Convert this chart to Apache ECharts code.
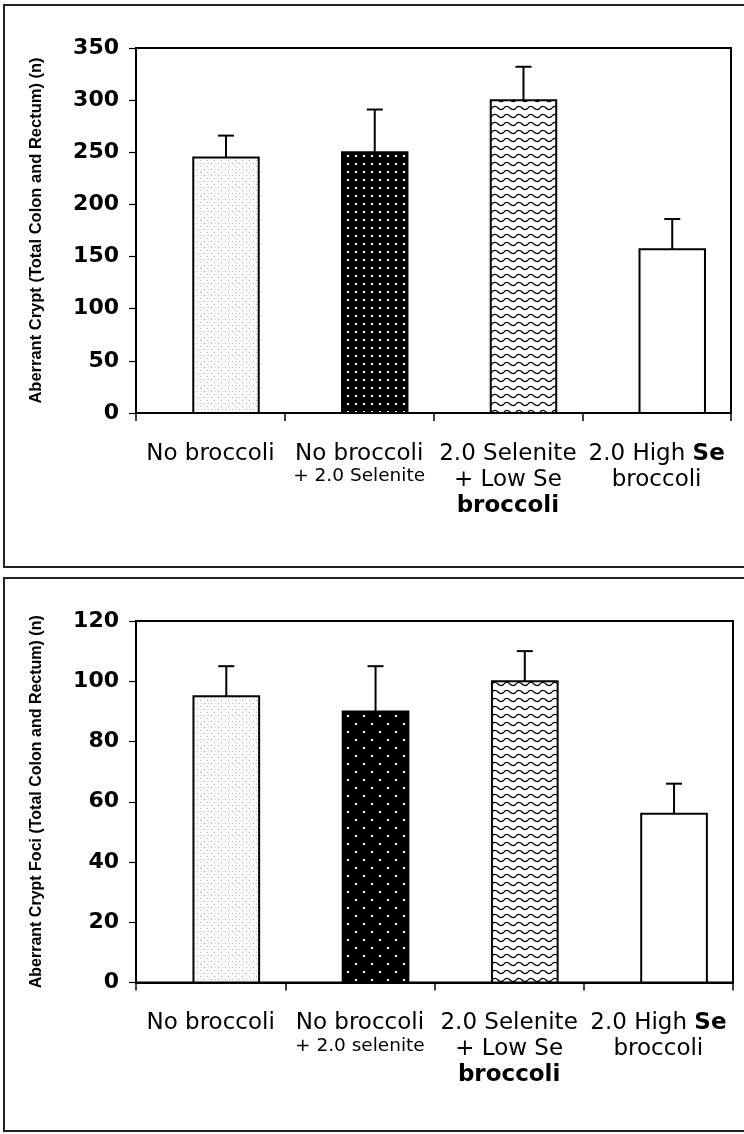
<!DOCTYPE html>
<html><head><meta charset="utf-8">
<script src="https://cdn.jsdelivr.net/npm/echarts@6/dist/echarts.min.js"></script>
<style>html,body{margin:0;padding:0;background:#fff}#c{width:744px;height:1134px}</style>
</head><body><div id="c"></div>
<script>
// ---- data ----
const categoriesTop = ['No broccoli', 'No broccoli\n+ 2.0 Selenite', '2.0 Selenite\n+ Low Se\nbroccoli', '2.0 High Se\nbroccoli'];
const categoriesBottom = ['No broccoli', 'No broccoli\n+ 2.0 selenite', '2.0 Selenite\n+ Low Se\nbroccoli', '2.0 High Se\nbroccoli'];
const cryptMeans = [245, 250, 300, 157];
const cryptErrors = [21, 41, 32, 29];
const fociMeans = [95, 90, 100, 56];
const fociErrors = [10, 15, 10, 10];
const cryptTicks = [0, 50, 100, 150, 200, 250, 300, 350];
const fociTicks = [0, 20, 40, 60, 80, 100, 120];
const cryptTitle = 'Aberrant Crypt (Total Colon and Rectum) (n)';
const fociTitle = 'Aberrant Crypt Foci (Total Colon and Rectum) (n)';

// ---- fill patterns (styles) ----
function makeCanvas(w, h, draw) {
  const c = document.createElement('canvas'); c.width = w; c.height = h;
  const ctx = c.getContext('2d'); draw(ctx); return c;
}
const speckle = makeCanvas(7, 6, ctx => {
  ctx.fillStyle = '#fbfbfb'; ctx.fillRect(0, 0, 7, 6);
  ctx.fillStyle = '#b8b8b8'; ctx.fillRect(1, 1, 1, 1); ctx.fillRect(4, 4, 1, 1);
  ctx.fillStyle = '#d8d8d8'; ctx.fillRect(5, 1, 1, 1);
});
const dotsTop = makeCanvas(8, 8, ctx => {
  ctx.fillStyle = '#000'; ctx.fillRect(0, 0, 8, 8);
  ctx.fillStyle = '#fff'; ctx.fillRect(3, 3, 2, 2);
});
const dotsBottom = makeCanvas(16, 16, ctx => {
  ctx.fillStyle = '#000'; ctx.fillRect(0, 0, 16, 16);
  ctx.fillStyle = '#fff'; ctx.fillRect(3, 3, 2, 2); ctx.fillRect(11, 11, 2, 2);
});
const waves = makeCanvas(12, 8, ctx => {
  ctx.fillStyle = '#fff'; ctx.fillRect(0, 0, 12, 8);
  ctx.strokeStyle = '#000'; ctx.lineWidth = 1.4;
  ctx.beginPath(); ctx.moveTo(0, 4); ctx.quadraticCurveTo(3, 0.8, 6, 4); ctx.quadraticCurveTo(9, 7.2, 12, 4); ctx.stroke();
});
const pat = c => ({ image: c, repeat: 'repeat' });
const fills = [
  [pat(speckle), pat(dotsTop), pat(waves), '#fff'],
  [pat(speckle), pat(dotsBottom), pat(waves), '#fff']
];

function renderBars(params, api) {
  const i = api.value(0), v = api.value(1), e = api.value(2);
  const band = api.size([1, 0])[0];
  const base = api.coord([i, 0]);
  const top = api.coord([i, v]);
  const errTop = api.coord([i, v + e]);
  const w = band * 0.44;
  const cx = base[0] + band * 0.105;
  return {
    type: 'group', children: [
      { type: 'rect', shape: { x: cx - w / 2, y: top[1], width: w, height: base[1] - top[1] },
        style: { fill: fills[params.seriesIndex][i], stroke: '#000', lineWidth: 2 } },
      { type: 'line', shape: { x1: cx, y1: top[1], x2: cx, y2: errTop[1] }, style: { stroke: '#000', lineWidth: 2 } },
      { type: 'line', shape: { x1: cx - 8, y1: errTop[1], x2: cx + 8, y2: errTop[1] }, style: { stroke: '#000', lineWidth: 2 } }
    ]
  };
}

function fmtLabel(value, idx) {
  const lines = value.split('\n');
  return lines.map((ln, li) => {
    if (idx === 1 && li === 1) return '{s|' + ln + '}';
    if (idx === 2 && li === 2) return '{b|' + ln + '}';
    if (idx === 3 && li === 0 && ln.endsWith(' Se')) return '{a|' + ln.slice(0, -2) + '}{b|Se}';
    return '{a|' + ln + '}';
  }).join('\n');
}

const richStyles = {
  a: { fontFamily: 'DejaVu Sans', fontSize: 23, lineHeight: 26, color: '#000' },
  b: { fontFamily: 'DejaVu Sans', fontSize: 23, lineHeight: 26, fontWeight: 'bold', color: '#000' },
  s: { fontFamily: 'DejaVu Sans', fontSize: 18.5, lineHeight: 19, color: '#000' }
};

function xAxisFor(cats, gi) {
  return {
    type: 'category', gridIndex: gi, data: cats,
    axisLine: { lineStyle: { color: '#000', width: 2 } },
    axisTick: { show: true, length: 8, interval: 0, lineStyle: { color: '#000', width: 1.5 } },
    axisLabel: { interval: 0, margin: 28, formatter: fmtLabel, rich: richStyles, color: '#000' },
    splitLine: { show: false }
  };
}
function yAxisFor(ticks, title, gi, titleSize) {
  return {
    type: 'value', gridIndex: gi, min: ticks[0], max: ticks[ticks.length - 1], interval: ticks[1] - ticks[0],
    name: title, nameLocation: 'middle', nameRotate: 90, nameGap: 91,
    nameTextStyle: { fontFamily: 'Liberation Sans', fontWeight: 'bold', fontSize: titleSize, color: '#000' },
    axisLine: { show: true, lineStyle: { color: '#000', width: 1.5 } },
    axisTick: { show: true, length: 7, lineStyle: { color: '#000', width: 1.2 } },
    axisLabel: { fontFamily: 'DejaVu Sans', fontWeight: 'bold', fontSize: 22, color: '#000', margin: 17 },
    splitLine: { show: false }
  };
}

const chart = echarts.init(document.getElementById('c'), null, { renderer: 'canvas' });
chart.setOption({
  animation: false,
  backgroundColor: '#fff',
  graphic: [
    { type: 'rect', shape: { x: 4, y: 5, width: 760, height: 562 }, style: { fill: 'none', stroke: '#222', lineWidth: 2 }, silent: true },
    { type: 'rect', shape: { x: 4, y: 578, width: 760, height: 553 }, style: { fill: 'none', stroke: '#222', lineWidth: 2 }, silent: true }
  ],
  grid: [
    { left: 136, right: 13, top: 48, height: 365, show: true, borderColor: '#000', borderWidth: 2, backgroundColor: 'transparent' },
    { left: 136, right: 11, top: 621, height: 361.5, show: true, borderColor: '#000', borderWidth: 2, backgroundColor: 'transparent' }
  ],
  xAxis: [xAxisFor(categoriesTop, 0), xAxisFor(categoriesBottom, 1)],
  yAxis: [yAxisFor(cryptTicks, cryptTitle, 0, 16.5), yAxisFor(fociTicks, fociTitle, 1, 16)],
  series: [
    { type: 'custom', xAxisIndex: 0, yAxisIndex: 0, renderItem: renderBars, encode: { x: 0, y: 1 },
      data: cryptMeans.map((m, i) => [i, m, cryptErrors[i]]) },
    { type: 'custom', xAxisIndex: 1, yAxisIndex: 1, renderItem: renderBars, encode: { x: 0, y: 1 },
      data: fociMeans.map((m, i) => [i, m, fociErrors[i]]) }
  ]
});
</script>
</body></html>
